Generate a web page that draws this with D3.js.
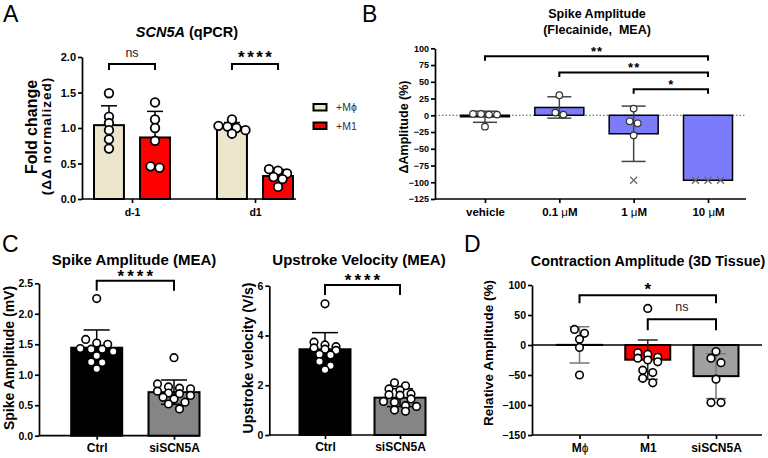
<!DOCTYPE html>
<html>
<head>
<meta charset="utf-8">
<script src="https://cdn.jsdelivr.net/npm/d3@7"></script>
<style>
  body { margin: 0; background: #fff; }
  text { font-family: "Liberation Sans", Arial, sans-serif; }
</style>
</head>
<body>
<svg id="fig" width="768" height="458"></svg>
<script>
// ---- data ----
// A: SCN5A qPCR, fold change
const aDays = ['d-1', 'd1'];
const aSeries = ['+M\u03d5', '+M1'];
const aFills = ['#ece6cc', '#ff0000'];
const aMphi = [[1.49, 1.16, 1.07, 0.97, 0.84, 0.71], [1.12, 1.03, 1.02, 1.00, 0.97, 0.92]];
const aM1 = [[1.36, 1.12, 1.00, 0.82, 0.46, 0.44], [0.42, 0.40, 0.36, 0.31, 0.28, 0.17]];
const aTicks = [0, 0.5, 1, 1.5, 2];
const aStats = [['d-1', 'ns'], ['d1', '****']];

// B: flecainide, delta amplitude (%)
const bDoses = ['vehicle', '0.1 \u03bcM', '1 \u03bcM', '10 \u03bcM'];
const bCircles = [[2, 1, 1, 2, -17], [30, 1, 4], [10, -12, -9, -30], []];
const bCrosses = [[], [], [-97], [-97, -97, -97]];
const bTicks = [-125, -100, -75, -50, -25, 0, 25, 50, 75, 100];
const bStats = [['vehicle', '10 \u03bcM', '**', 88], ['0.1 \u03bcM', '10 \u03bcM', '**', 64], ['1 \u03bcM', '10 \u03bcM', '*', 39]];

// C: MEA, siSCN5A
const cGroups = ['Ctrl', 'siSCN5A'];
const cFills = ['#000000', '#858585'];
const cAmp = [[2.25, 1.58, 1.52, 1.50, 1.43, 1.42, 1.42, 1.38, 1.31, 1.21, 1.20, 1.10],
              [1.28, 0.85, 0.80, 0.78, 0.77, 0.73, 0.70, 0.69, 0.66, 0.63, 0.60, 0.55, 0.52, 0.44]];
const cAmpTicks = [0, 0.5, 1, 1.5, 2, 2.5];
const cVel = [[5.27, 3.73, 3.62, 3.55, 3.50, 3.45, 3.40, 3.25, 3.22, 2.95, 2.78, 2.62],
              [2.10, 1.98, 1.85, 1.80, 1.65, 1.62, 1.60, 1.45, 1.35, 1.32, 1.18, 1.15, 1.00, 0.95]];
const cVelTicks = [0, 2, 4, 6];

// D: 3D tissue contraction
const dGroups = ['M\u03d5', 'M1', 'siSCN5A'];
const dFills = ['#ece6cc', '#ff0000', '#a0a0a0'];
const dErr = ['#777', '#222', '#777'];
const dVals = [[26, 19.5, 9.5, -4, -50],
               [61, -13, -15.5, -20.5, -22, -25, -28, -42, -46, -55.5, -63],
               [-11, -22, -29.5, -57, -96, -96]];
const dTicks = [-150, -100, -50, 0, 50, 100];
const dStats = [['M\u03d5', 'siSCN5A', '*', 83], ['M1', 'siSCN5A', 'ns', 43]];

const svg = d3.select('#fig');
const FONT = '"Liberation Sans", Arial, sans-serif';

function txt(g, x, y, s, fs, o) {
  o = o || {};
  return g.append('text').attr('x', x).attr('y', y)
    .attr('font-size', fs)
    .attr('font-weight', o.weight || 'bold')
    .attr('text-anchor', o.anchor || 'middle')
    .attr('fill', o.fill || '#000')
    .attr('letter-spacing', o.ls || 0)
    .text(s);
}

function vtxt(g, x, y, s, fs, ls) {
  return g.append('text')
    .attr('transform', `translate(${x},${y}) rotate(-90)`)
    .attr('font-size', fs).attr('font-weight', 'bold')
    .attr('letter-spacing', ls || 0)
    .attr('text-anchor', 'middle').text(s);
}

// greek letters drawn in a lighter weight, like the Symbol glyphs of the original
function richLabel(sel) {
  sel.each(function(d) {
    const t = d3.select(this).text('');
    String(d).split(/([\u03bc\u03d5])/).filter(p => p).forEach(p => {
      const sp = t.append('tspan').text(p);
      if (p === '\u03bc' || p === '\u03d5') sp.attr('font-weight', 'normal');
    });
  });
}

function yAxis(g, y, x0, ticks, fmt, fs) {
  const ax = g.append('g').attr('transform', `translate(${x0},0)`)
    .call(d3.axisLeft(y).tickValues(ticks).tickFormat(fmt).tickSize(4).tickSizeOuter(0).tickPadding(2));
  ax.attr('font-family', FONT).attr('font-size', fs).attr('font-weight', 'bold');
  ax.selectAll('path, line').attr('stroke', '#000').attr('stroke-width', 1.7);
  ax.selectAll('text').attr('fill', '#000');
}

function xAxis(g, x, y0, xl, xr, fs, pad) {
  g.append('line').attr('x1', xl).attr('x2', xr).attr('y1', y0).attr('y2', y0)
    .attr('stroke', '#000').attr('stroke-width', 1.7);
  const ax = g.append('g').attr('transform', `translate(0,${y0})`)
    .call(d3.axisBottom(x).tickSize(4).tickPadding(pad));
  ax.select('.domain').remove();
  ax.attr('font-family', FONT).attr('font-size', fs).attr('font-weight', 'bold');
  ax.selectAll('line').attr('stroke', '#000').attr('stroke-width', 1.7);
  ax.selectAll('text').attr('fill', '#000').call(richLabel);
}

// GraphPad-like scatter: points of about the same height share a row
function swarm(vals, y, rowH, gap) {
  const pts = vals.map(v => ({ v: v, y: y(v) })).sort((a, b) => a.y - b.y);
  const rows = [];
  pts.forEach(p => {
    const row = rows[rows.length - 1];
    if (row && p.y - row[0].y < rowH) row.push(p); else rows.push([p]);
  });
  rows.forEach(row => row.forEach((p, i) => { p.dx = (i - (row.length - 1) / 2) * gap; }));
  return pts;
}

function drawBar(g, cx, vals, y, o) {
  const m = d3.mean(vals), s = d3.deviation(vals) || 0;
  g.append('rect')
    .attr('x', cx - o.w / 2).attr('width', o.w)
    .attr('y', Math.min(y(m), y(0))).attr('height', Math.abs(y(m) - y(0)))
    .attr('fill', o.fill).attr('stroke', '#000').attr('stroke-width', o.sw);
  if (s > 0) {
    const ends = o.up ? [m + s] : [m + s, m - s];
    ends.forEach(e => {
      g.append('line').attr('x1', cx).attr('x2', cx).attr('y1', y(m)).attr('y2', y(e))
        .attr('stroke', o.err).attr('stroke-width', 1.5);
      g.append('line').attr('x1', cx - o.cap).attr('x2', cx + o.cap).attr('y1', y(e)).attr('y2', y(e))
        .attr('stroke', o.err).attr('stroke-width', 1.5);
    });
  }
}

function dots(g, cx, vals, y, o) {
  g.selectAll(null).data(swarm(vals, y, o.rowH, o.gap)).enter().append('circle')
    .attr('cx', d => cx + d.dx).attr('cy', d => d.y).attr('r', o.r)
    .attr('fill', '#fff').attr('stroke', o.stroke || '#000').attr('stroke-width', o.sw);
}

function crosses(g, cx, vals, y, o) {
  g.selectAll(null).data(swarm(vals, y, o.rowH, o.gap)).enter().append('path')
    .attr('d', d => {
      const x = cx + d.dx, yy = d.y, h = o.size;
      return `M${x - h},${yy - h}L${x + h},${yy + h}M${x - h},${yy + h}L${x + h},${yy - h}`;
    })
    .attr('stroke', '#6a6a6a').attr('stroke-width', 1.3).attr('fill', 'none');
}

function bracket(g, x1, x2, yb, drop, label, fs, o) {
  g.append('path').attr('d', `M${x1},${yb + drop}V${yb}H${x2}V${yb + drop}`)
    .attr('fill', 'none').attr('stroke', '#000').attr('stroke-width', 2);
  txt(g, (x1 + x2) / 2 + (o.ls || 0) / 2, yb - o.lift, label, fs,
      { weight: o.weight, fill: o.fill, ls: o.ls });
}

// ---------- panel letters ----------
[['A', 3, 22], ['B', 362, 22], ['C', 2, 252], ['D', 464, 252]].forEach(l =>
  txt(svg, l[1], l[2], l[0], 23, { weight: 'normal', anchor: 'start' }));

// ---------- panel A ----------
const gA = svg.append('g');
const yA = d3.scaleLinear().domain([0, 2]).range([199, 57]);
const xA = d3.scalePoint().domain(aDays).range([132, 255]);
const sA = d3.scaleBand().domain(aSeries).range([-38, 38]).paddingInner(0.35);
xAxis(gA, xA, 199, 82, 296, 10.5, 6);
yAxis(gA, yA, 82, aTicks, d3.format('.1f'), 11);
aDays.forEach((day, i) => {
  [aMphi[i], aM1[i]].forEach((vals, j) => {
    const cx = xA(day) + sA(aSeries[j]) + sA.bandwidth() / 2;
    drawBar(gA, cx, vals, yA, { w: sA.bandwidth(), fill: aFills[j], sw: 2, err: '#000', cap: 8, up: true });
    dots(gA, cx, vals, yA, { r: 4.3, sw: 1.8, rowH: 5, gap: 9 });
  });
});
aStats.forEach(s => {
  const x1 = xA(s[0]) + sA(aSeries[0]) + sA.bandwidth() / 2;
  const x2 = xA(s[0]) + sA(aSeries[1]) + sA.bandwidth() / 2;
  const star = s[1] !== 'ns';
  bracket(gA, x1, x2, yA(1.9), 6, s[1], star ? 17 : 12.5,
          star ? { weight: 'bold', lift: 1, ls: 2.5 } : { weight: 'normal', fill: '#222', lift: 7.5 });
});
const titleA = txt(gA, 187, 37, '', 14.5);
titleA.append('tspan').attr('font-style', 'italic').text('SCN5A');
titleA.append('tspan').text(' (qPCR)');
vtxt(gA, 36.5, 127, 'Fold change', 16);
vtxt(gA, 51, 136, '(\u0394\u0394 normalized)', 13.5, 1);
aSeries.forEach((name, j) => {
  gA.append('rect').attr('x', 313.5).attr('y', 104 + j * 18.5).attr('width', 13).attr('height', 6.5)
    .attr('fill', aFills[j]).attr('stroke', '#000').attr('stroke-width', 2);
  txt(gA, 336, 111 + j * 18.5, name, 10.5, { weight: 'normal', anchor: 'start', fill: '#333' });
});

// ---------- panel B ----------
const gB = svg.append('g');
const yB = d3.scaleLinear().domain([-125, 100]).range([199, 48.3]);
const xB = d3.scalePoint().domain(bDoses).range([485, 708]);
gB.append('line').attr('x1', 435).attr('x2', 746).attr('y1', yB(0)).attr('y2', yB(0))
  .attr('stroke', '#555').attr('stroke-width', 1).attr('stroke-dasharray', '1.5,2');
xAxis(gB, xB, 199, 435, 746, 11.5, 4.8);
yAxis(gB, yB, 435, bTicks, d3.format('d'), 9);
bDoses.forEach((dose, i) => {
  const all = bCircles[i].concat(bCrosses[i]);
  drawBar(gB, xB(dose), all, yB, { w: 49, fill: '#7c7cfb', sw: 1.5, err: '#444', cap: 12 });
  dots(gB, xB(dose), bCircles[i], yB, { r: 3.3, sw: 1.2, stroke: '#333', rowH: 5, gap: 8 });
  crosses(gB, xB(dose), bCrosses[i], yB, { size: 3.5, rowH: 5, gap: 12.5 });
});
bStats.forEach(s => bracket(gB, xB(s[0]), xB(s[1]), yB(s[3]), 4.5, s[2], 13, { weight: 'bold', lift: 0, ls: 1 }));
txt(gB, 597, 18, 'Spike Amplitude', 12.5);
txt(gB, 597, 34, '(Flecainide,\u00a0 MEA)', 12.5);
vtxt(gB, 408, 127, '\u0394Amplitude (%)', 12.5);

// ---------- panel C ----------
function panelC(vals, yDom, yRange, ticks, fmt, xl, xr, centers, title, tx, ylab, lx, bY, lift) {
  const g = svg.append('g');
  const y = d3.scaleLinear().domain(yDom).range(yRange);
  const x = d3.scalePoint().domain(cGroups).range(centers);
  xAxis(g, x, yRange[0], xl, xr, 12, 3.8);
  yAxis(g, y, xl, ticks, fmt, 10.5);
  cGroups.forEach((grp, i) => {
    drawBar(g, x(grp), vals[i], y, { w: 51, fill: cFills[i], sw: 2, err: '#000', cap: 13 });
    dots(g, x(grp), vals[i], y, { r: 3.8, sw: 1.6, rowH: 5, gap: 11 });
  });
  bracket(g, x(cGroups[0]), x(cGroups[1]), bY, 10, '****', 17, { weight: 'bold', lift: lift, ls: 3 });
  txt(g, tx, 265, title, 15);
  vtxt(g, lx, 358, ylab, 14);
}
panelC(cAmp, [0, 2.5], [435.7, 283.3], cAmpTicks, d3.format('.1f'), 39, 200, [96.7, 174],
       'Spike Amplitude (MEA)', 134, 'Spike Amplitude (mV)', 14, 280.7, -1.5);
panelC(cVel, [0, 6], [435, 285.7], cVelTicks, d3.format('d'), 269.3, 426, [325, 400],
       'Upstroke Velocity (MEA)', 359, 'Upstroke velocity (V/s)', 252.5, 285, -0.6);

// ---------- panel D ----------
const gD = svg.append('g');
const yD = d3.scaleLinear().domain([-150, 100]).range([435, 285]);
const xD = d3.scalePoint().domain(dGroups).range([579.5, 716]);
xAxis(gD, xD, 435, 532, 762, 12, 4.5);
yAxis(gD, yD, 532, dTicks, d3.format('d'), 10.5);
gD.append('line').attr('x1', 532).attr('x2', 762).attr('y1', yD(0)).attr('y2', yD(0))
  .attr('stroke', '#000').attr('stroke-width', 1.7);
dGroups.forEach((grp, i) => {
  drawBar(gD, xD(grp), dVals[i], yD, { w: 45, fill: dFills[i], sw: 2, err: dErr[i], cap: 10 });
  dots(gD, xD(grp), dVals[i], yD, { r: 3.8, sw: 1.6, rowH: 5, gap: 10 });
});
dStats.forEach((s, i) => {
  const star = s[2] !== 'ns';
  bracket(gD, xD(s[0]), xD(s[1]), yD(s[3]), i ? 11 : 8, s[2], star ? 17 : 12.5,
          star ? { weight: 'bold', lift: 0 } : { weight: 'normal', fill: '#222', lift: 8.5 });
});
txt(gD, 648, 266, 'Contraction Amplitude (3D Tissue)', 14.3);
vtxt(gD, 493, 353, 'Relative Amplitude (%)', 13.5);
</script>
</body>
</html>
